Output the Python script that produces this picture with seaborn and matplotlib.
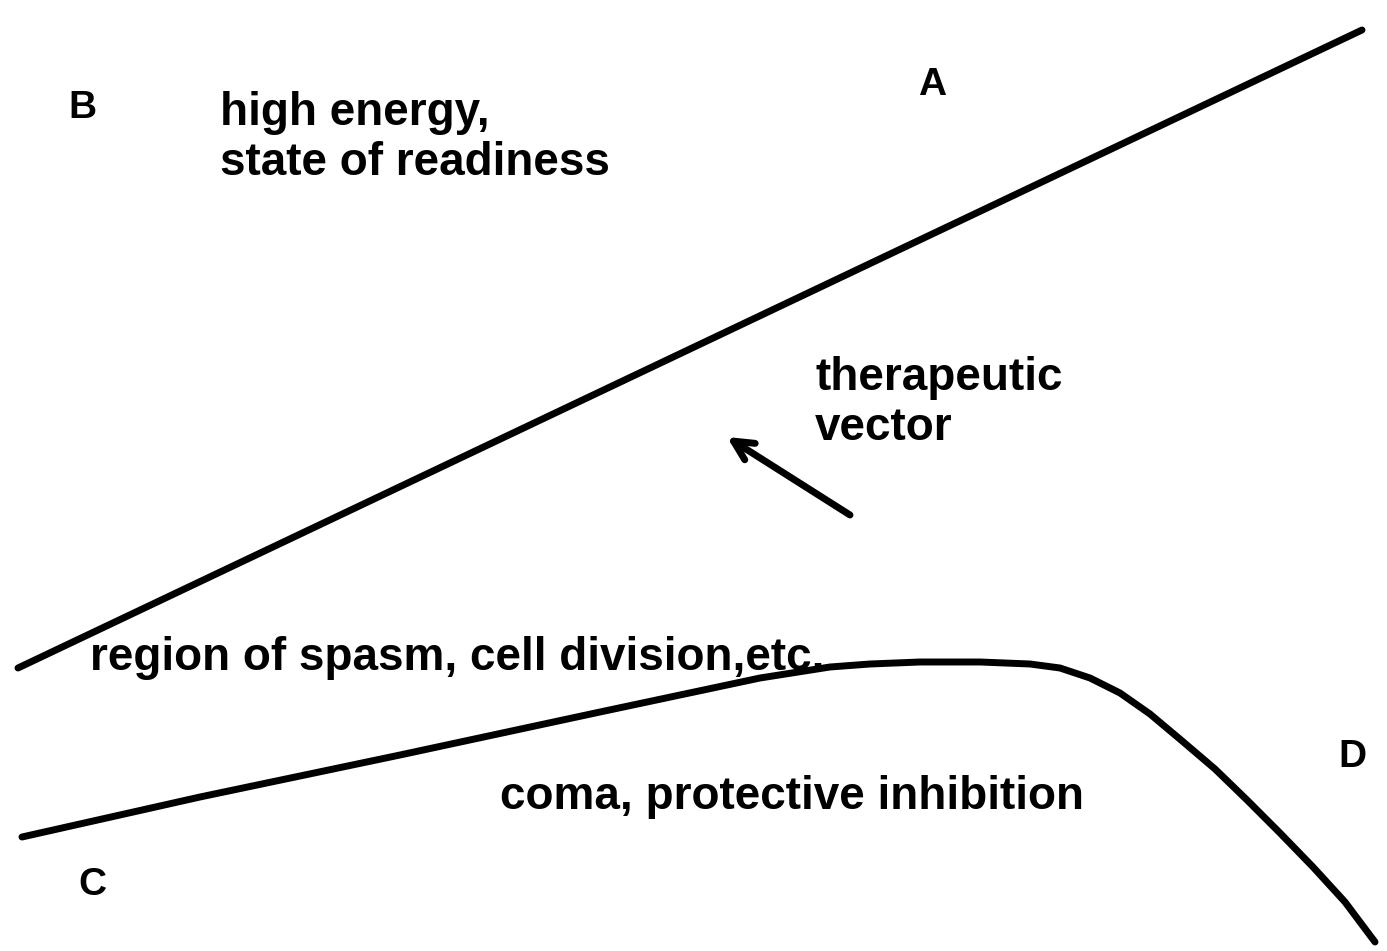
import pandas as pd
import matplotlib.pyplot as plt
import seaborn as sns

# upper boundary (straight line) and lower boundary (curve), in picture units
upper_x = [18, 1362]
upper_y = [668, 30]

lower_x = [22, 200, 400, 600, 760, 830, 870, 920, 980, 1030, 1060, 1090, 1120,
           1150, 1181, 1215, 1247, 1280, 1313, 1345, 1375]
lower_y = [837, 797, 755, 712, 678, 667, 664, 662, 662, 664, 668, 678, 693,
           714, 740, 769, 800, 833, 867, 902, 942]

arrow_tail = (850, 515)
arrow_head = (727, 437)

labels = ['B', 'A', 'C', 'D']
label_x = [82, 932, 92, 1352]
label_y = [108, 85, 885, 757]

notes = ['high energy,\nstate of readiness', 'therapeutic\nvector',
         'region of spasm, cell division,etc.', 'coma, protective inhibition']
note_x = [220, 815, 90, 500]
note_y = [138, 403, 658, 797]

sns.set_style('white')
plt.rcParams['font.family'] = ['Liberation Sans', 'DejaVu Sans']

fig = plt.figure(figsize=(13.87, 9.51), dpi=100)
ax = fig.add_axes([0, 0, 1, 1])

upper = pd.DataFrame({'x': upper_x, 'y': upper_y})
lower = pd.DataFrame({'x': lower_x, 'y': lower_y})
sns.lineplot(data=upper, x='x', y='y', sort=False, color='black', linewidth=5, ax=ax)
sns.lineplot(data=lower, x='x', y='y', sort=False, color='black', linewidth=5, ax=ax)

ax.annotate('', xy=arrow_head, xytext=arrow_tail,
            arrowprops=dict(arrowstyle='->', color='black', lw=5, mutation_scale=35,
                            shrinkA=0, shrinkB=0))

for t, x, y in zip(labels, label_x, label_y):
    ax.text(x, y, t, fontsize=28, fontweight='bold', color='black',
            ha='center', va='center')

for t, x, y in zip(notes, note_x, note_y):
    ax.text(x, y, t, fontsize=33, fontweight='bold', color='black',
            ha='left', va='center', linespacing=1.2)

ax.set_xlim(0, 1387)
ax.set_ylim(951, 0)
ax.axis('off')

fig.savefig('out.png', dpi=100, facecolor='white')
